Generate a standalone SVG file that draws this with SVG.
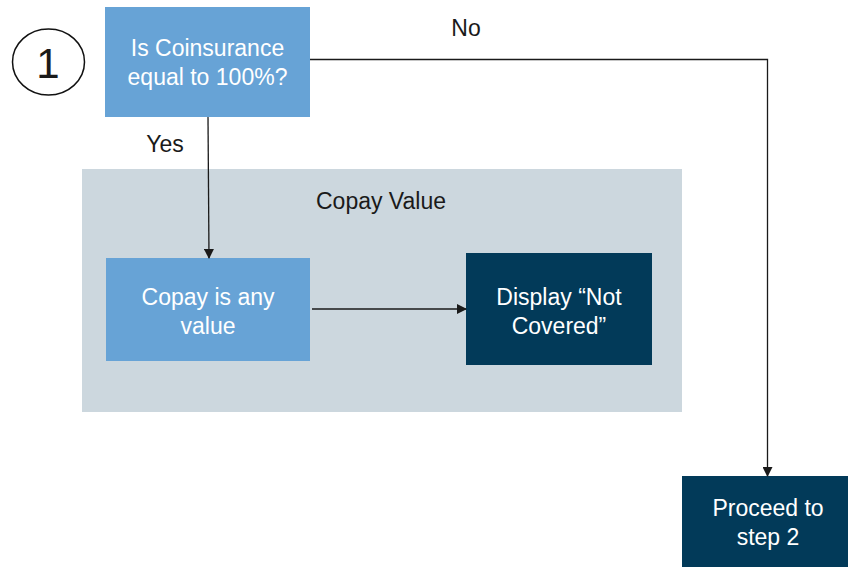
<svg xmlns="http://www.w3.org/2000/svg" width="848" height="567" viewBox="0 0 848 567">
<style>
text{font-family:"Liberation Sans",Arial,sans-serif;font-size:23px;text-anchor:middle}
.w{fill:#ffffff}
.k{fill:#1a1a1a}
.light{fill:#67a3d6}
.dark{fill:#023a59}
.conn{stroke:#1a1a1a;stroke-width:1.3;fill:none}
</style>
<defs>
<marker id="ah" markerWidth="10" markerHeight="10" refX="9" refY="5" orient="auto" markerUnits="userSpaceOnUse">
<path d="M0,0 L10,5 L0,10 z" fill="#1a1a1a"/>
</marker>
</defs>
<rect id="container" x="82" y="169" width="600" height="243" fill="#ccd7de"/>
<text class="k" x="381" y="209">Copay Value</text>
<g id="step-marker">
<ellipse cx="48.5" cy="62" rx="36" ry="33" fill="#fff" stroke="#111" stroke-width="1.5"/>
<text class="k" x="48" y="78" style="font-size:42px">1</text>
</g>
<g id="decision">
<rect class="light" x="105" y="7" width="205" height="110"/>
<text class="w" x="207.5" y="56">Is Coinsurance</text>
<text class="w" x="207.5" y="85">equal to 100%?</text>
</g>
<g id="copay-any">
<rect class="light" x="106" y="258" width="204" height="103"/>
<text class="w" x="208" y="305">Copay is any</text>
<text class="w" x="208" y="334">value</text>
</g>
<g id="not-covered">
<rect class="dark" x="466" y="253" width="186" height="112"/>
<text class="w" x="559" y="305">Display “Not</text>
<text class="w" x="559" y="334">Covered”</text>
</g>
<g id="proceed">
<rect class="dark" x="682" y="476" width="166" height="91"/>
<text class="w" x="768" y="516">Proceed to</text>
<text class="w" x="768" y="545">step 2</text>
</g>
<g id="connectors">
<path class="conn" d="M208,117 L209,258" marker-end="url(#ah)"/>
<text class="k" x="165" y="152">Yes</text>
<path class="conn" d="M312,309 L466,309" marker-end="url(#ah)"/>
<path class="conn" d="M310,59.5 L767.5,59.5 L767.5,476" marker-end="url(#ah)"/>
<text class="k" x="466" y="36">No</text>
</g>
</svg>
